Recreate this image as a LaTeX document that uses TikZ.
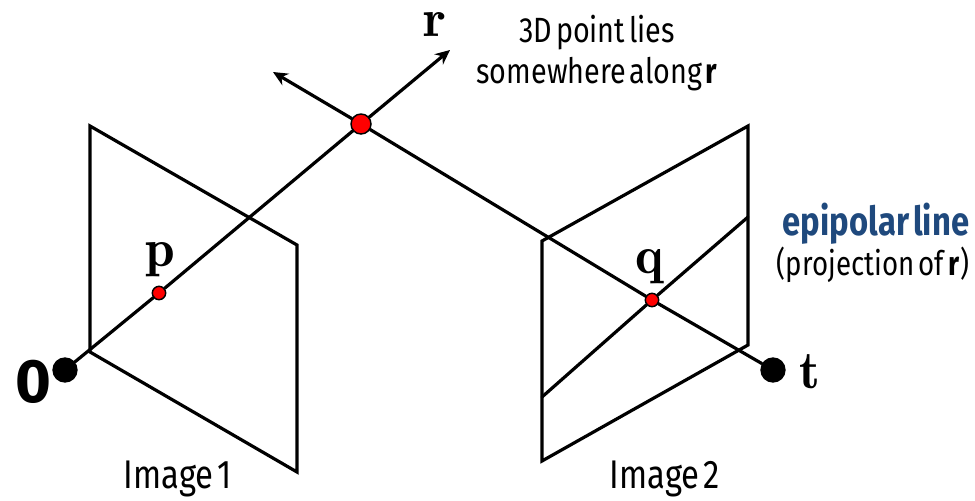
\documentclass[tikz,border=0pt]{standalone}
\usepackage{fontspec}
\setmainfont[FakeStretch=0.82,WordSpace=0.5]{Fira Sans}
\newfontfamily\zerofont{Fira Sans}
\usetikzlibrary{arrows.meta,positioning,shapes}
\definecolor{epiblue}{RGB}{31,73,125}
\tikzset{
  raydot/.style={draw,circle,fill=red,line width=1.1pt,inner sep=0pt,minimum size=10pt},
  camdot/.style={circle,fill=black,inner sep=0pt,minimum size=19pt},
  lbl/.style={font=\fontsize{26.3}{26.3}\selectfont,inner sep=0pt,align=center},
  vec/.style={font=\fontfamily{lmr}\bfseries\fontsize{40}{40}\selectfont,inner sep=0pt},
  edge/.style={line width=2.4pt,line cap=round,line join=miter},
}
\begin{document}
\begin{tikzpicture}[x=.75pt,y=-.75pt]
\useasboundingbox (0,0) rectangle (975,500);
\coordinate (a1) at (90,126);
\coordinate (a2) at (297,245);
\coordinate (a3) at (297,472);
\coordinate (a4) at (90,352);
\coordinate (b1) at (542,241);
\coordinate (b2) at (748,126);
\coordinate (b3) at (748,345);
\coordinate (b4) at (542,461);
\coordinate (e1) at (542,397);
\coordinate (e2) at (748,217);
\coordinate (r1) at (450,50);
\coordinate (r2) at (273,72);
\draw[edge] (a1) -- (a2) -- (a3) -- (a4) -- cycle;
\draw[edge] (b1) -- (b2) -- (b3) -- (b4) -- cycle;
\node[camdot] (n0) at (65,370) {};
\node[camdot] (nt) at (773,370) {};
\node[raydot,minimum size=15pt] (nx) at (361,124) {};
\node[raydot] (np) at (159,293) {};
\node[raydot] (nq) at (652,300) {};
\draw[edge] (n0) -- (np);
\draw[edge] (np) -- (nx);
\draw[edge] (nt) -- (nq);
\draw[edge] (nq) -- (nx);
\draw[edge] (e1) -- (nq);
\draw[edge] (nq) -- (e2);
\draw[edge,-{Stealth[length=11pt,width=10pt]}] (nx) -- (r1);
\draw[edge,-{Stealth[length=11pt,width=10pt]}] (nx) -- (r2);
\node[inner sep=0pt,font=\zerofont\bfseries\fontsize{46}{46}\selectfont] (l0) at (33,382) {0};
\node[vec] (lp) at (160,260) {p};
\node[vec] (lq) at (650,267) {q};
\node[vec] (lt) at (810,372) {t};
\node[vec] (lr) at (435,24) {r};
\node[lbl] (ltxt1) at (597,33) {3D point lies};
\node[lbl] (ltxt2) at (597,74) {somewhere along \textbf{r}};
\node[lbl,text=epiblue,font=\fontsize{30}{30}\selectfont\bfseries] (lepi) at (876,224) {epipolar line};
\node[lbl,font=\fontsize{25.3}{25.3}\selectfont] (lproj) at (873,265) {(projection of \textbf{r})};
\node[lbl,font=\fontsize{30}{30}\selectfont] (limg1) at (178,479) {Image 1};
\node[lbl,font=\fontsize{30}{30}\selectfont] (limg2) at (665,479) {Image 2};
\end{tikzpicture}
\end{document}
